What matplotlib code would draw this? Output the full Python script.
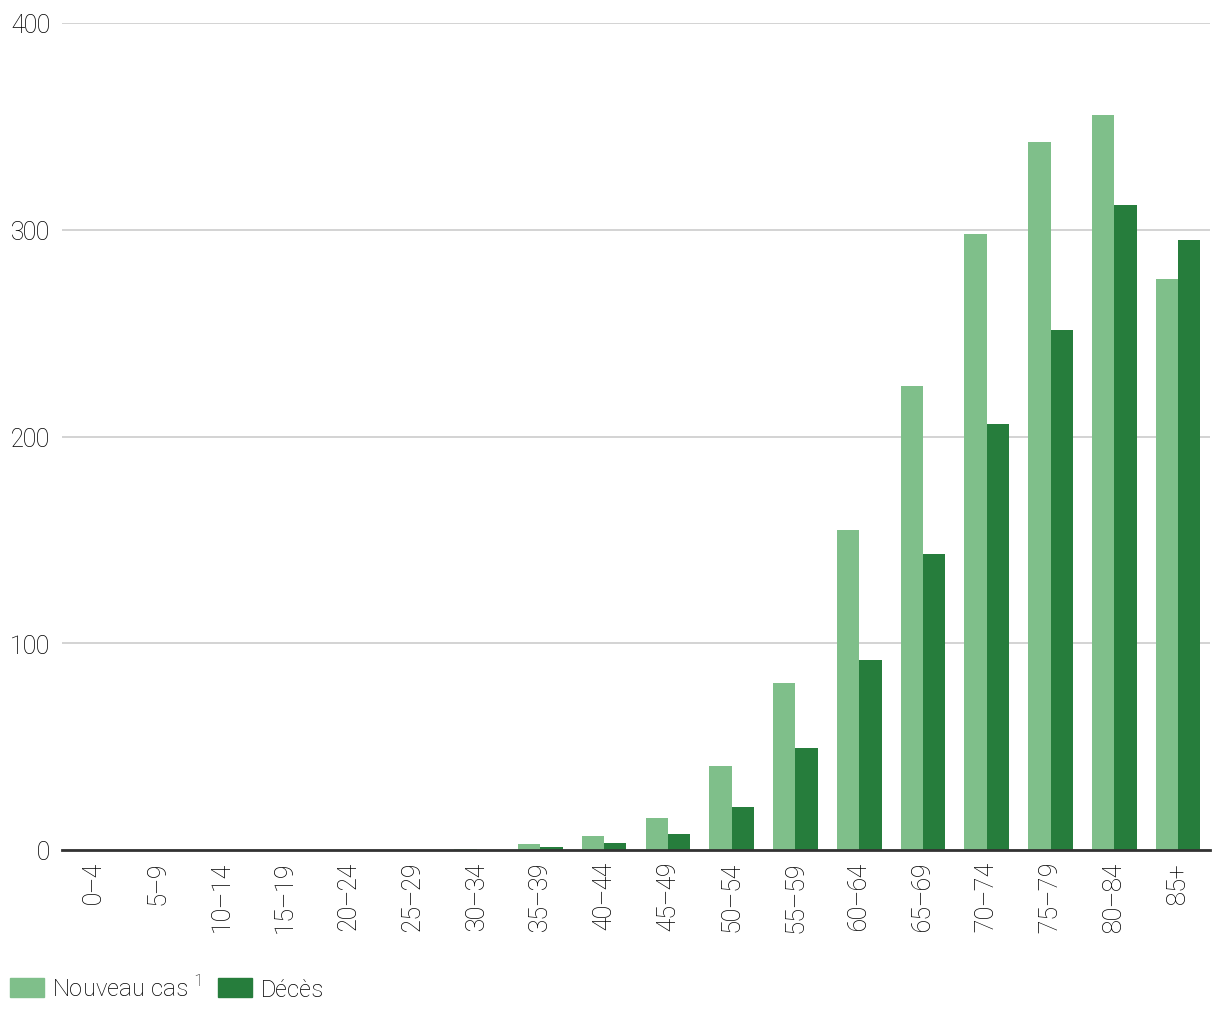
import numpy as np
from matplotlib import pyplot as plt
from matplotlib.patches import Patch

# groupes d'âge et valeurs
ages = ['0–4', '5–9', '10–14', '15–19', '20–24', '25–29', '30–34', '35–39', '40–44',
        '45–49', '50–54', '55–59', '60–64', '65–69', '70–74', '75–79', '80–84', '85+']
nouveaux_cas = [0, 0, 0, 0, 0, 0, 0.5, 2.9, 6.8, 15.5, 40.6, 80.8, 154.8, 224.4, 297.9, 342.4, 355.5, 276.2]
deces = [0, 0, 0, 0, 0, 0, 0, 1.5, 3.4, 7.7, 20.8, 49.3, 91.9, 143.2, 206.0, 251.5, 312.0, 295.0]
yticks = [0, 100, 200, 300, 400]

c_cas = '#7fbf8a'
c_deces = '#267d3c'

plt.rcParams['font.family'] = ['Roboto', 'DejaVu Sans']
plt.rcParams['font.weight'] = 'light'
plt.rcParams['mathtext.fontset'] = 'custom'
plt.rcParams['mathtext.rm'] = 'Roboto:light'
plt.rcParams['text.hinting'] = 'force_autohint'
plt.rcParams['text.hinting_factor'] = 1

fig = plt.figure(figsize=(12.2, 10.2), dpi=100)
ax = fig.add_axes([62/1220, 1 - 851/1020, (1210 - 62)/1220, (851 - 24)/1020])

x = np.arange(len(ages))
w = 0.35
ax.bar(x - w/2, nouveaux_cas, w, color=c_cas, zorder=2)
ax.bar(x + w/2, deces, w, color=c_deces, zorder=2)

ax.set_xlim(-0.5, len(ages) - 0.5)
ax.set_ylim(0, 400)
ax.set_yticks(yticks)
ax.set_yticklabels([str(t) for t in yticks], fontsize=18, color='#000000')
ax.set_xticks(x)
ax.set_xticklabels(ages, rotation=90, fontsize=18, color='#000000')
ax.tick_params(axis='both', length=0)
ax.tick_params(axis='y', pad=8.5)
ax.tick_params(axis='x', pad=8)

ax.grid(axis='y', color='#cccccc', linewidth=1.2, zorder=0)
for s in ['top', 'right', 'left']:
    ax.spines[s].set_visible(False)
ax.spines['bottom'].set_color('#333333')
ax.spines['bottom'].set_linewidth(2)
ax.spines['bottom'].set_zorder(3)

handles = [Patch(color=c_cas, label='Nouveau cas $^{1}$'), Patch(color=c_deces, label='Décès')]
leg = fig.legend(handles=handles, loc='lower left', bbox_to_anchor=(0.0, 0.008), ncol=2, frameon=False,
                 fontsize=17.5, handlelength=1.4, handleheight=0.85, handletextpad=0.35, columnspacing=0.7,
                 borderaxespad=0)
for t in leg.get_texts():
    t.set_color('#000000')

plt.savefig('out.png', dpi=100)
